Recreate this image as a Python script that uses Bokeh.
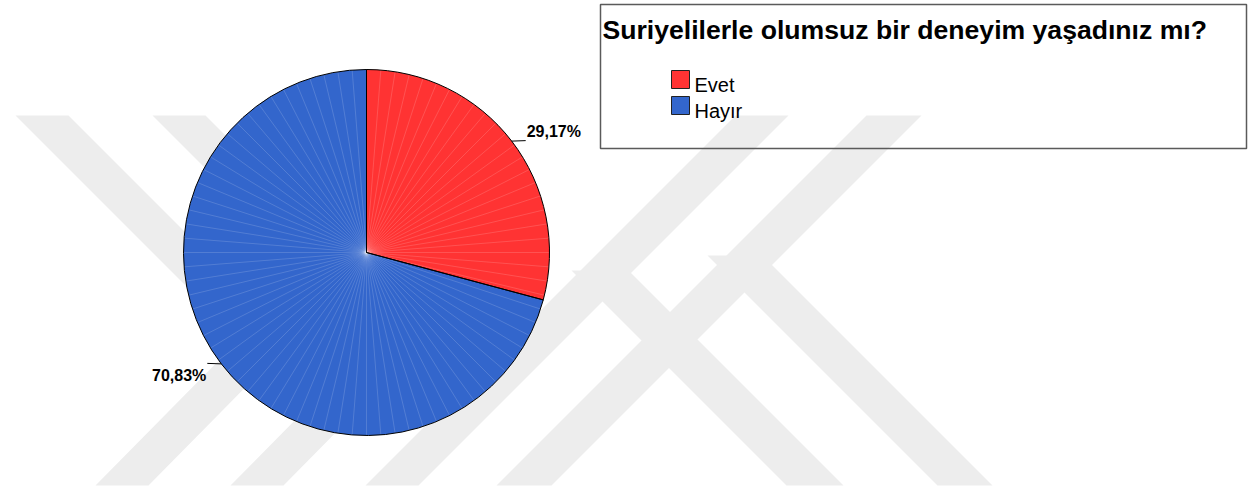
import numpy as np
from bokeh.plotting import figure
from bokeh.models import Range1d, ColumnDataSource
from bokeh.core.properties import value
from bokeh.embed import file_html
from bokeh.resources import INLINE

# ---------------- data ----------------
title_text = "Suriyelilerle olumsuz bir deneyim yaşadınız mı?"
categories = ["Evet", "Hayır"]
percentages = [29.17, 70.83]
pct_labels = ["29,17%", "70,83%"]
colors = ["#FF3333", "#3366CC"]

# ---------------- layout ----------------
W, H = 1250, 489
def sy(y):
    # screen y (page px) -> data y
    return 491 - y

TXT_SHIFT = 7  # empirical baseline correction (px)

p = figure(width=W, height=H, x_range=Range1d(0, W), y_range=Range1d(491 - H, 491),
           output_backend="svg", toolbar_location=None, min_border=0,
           x_axis_location=None, y_axis_location=None)
p.grid.visible = False
p.outline_line_color = None
p.background_fill_color = "white"
p.border_fill_color = "white"

FONT = "Liberation Sans"

# ---------------- faint background watermark ----------------
wm_shapes = [
    [(15, 115), (68, 115), (292, 339), (148, 485), (95, 485), (239, 339)],
    [(152, 115), (205, 115), (428, 338), (283, 485), (230, 485), (375, 338)],
    [(735, 115), (788, 115), (418, 485), (365, 485)],
    [(866, 115), (921, 115), (551, 485), (496, 485)],
    [(571, 270), (628, 270), (843, 485), (786, 485)],
    [(707, 255), (762, 255), (992, 485), (937, 485)],
]
p.patches(xs=[[pt[0] for pt in s] for s in wm_shapes],
          ys=[[sy(pt[1]) for pt in s] for s in wm_shapes],
          fill_color="#EDEDED", line_color=None)

# ---------------- pie ----------------
cx, cy, R = 366, sy(252), 183
total = float(sum(percentages))
fracs = [v / total for v in percentages]
cum = np.concatenate([[0.0], np.cumsum(fracs)])
starts = [np.pi / 2 - 2 * np.pi * cum[i] for i in range(len(fracs))]
ends = [np.pi / 2 - 2 * np.pi * cum[i + 1] for i in range(len(fracs))]

pie_src = ColumnDataSource(dict(start=starts, end=ends, color=colors, cat=categories))
p.wedge(x=cx, y=cy, radius=R, start_angle="start", end_angle="end", direction="clock",
        fill_color="color", line_color=None, source=pie_src)

# radial shading lines (texture)
n_rays = 80
ray_ang = np.pi / 2 - np.arange(n_rays) * 2 * np.pi / n_rays
p.segment(x0=[cx] * n_rays, y0=[cy] * n_rays,
          x1=list(cx + R * np.cos(ray_ang)), y1=list(cy + R * np.sin(ray_ang)),
          line_color="white", line_alpha=0.22, line_width=0.7)

# outlines
p.wedge(x=cx, y=cy, radius=R, start_angle="start", end_angle="end", direction="clock",
        fill_color=None, line_color="black", line_width=1, source=pie_src)

# ---------------- percentage labels ----------------
for i, lab in enumerate(pct_labels):
    mid = (starts[i] + ends[i]) / 2
    ex, ey = cx + R * np.cos(mid), cy + R * np.sin(mid)
    side = 1 if np.cos(mid) >= 0 else -1
    lx = ex + side * 14
    p.segment(x0=[ex], y0=[ey], x1=[lx], y1=[ey + 0.5], line_color="black", line_width=1)
    ty = (ey + 3 if np.sin(mid) > 0 else ey - 19) + TXT_SHIFT
    p.text(x=[lx + side * 1], y=[ty], text=[lab], text_font=value(FONT),
           text_font_size="16px", text_font_style="bold", text_color="black",
           text_align="left" if side > 0 else "right", text_baseline="alphabetic")

# ---------------- legend box ----------------
p.quad(left=[600], right=[1246], top=[sy(4)], bottom=[sy(148)],
       fill_color=None, line_color="#5a5a5a", line_width=1.5)
p.text(x=[602], y=[sy(36) + TXT_SHIFT], text=[title_text], text_font=value(FONT),
       text_font_size="26.6px", text_font_style="bold", text_color="black",
       text_align="left", text_baseline="alphabetic")

leg_top = [70 + 26 * i for i in range(len(categories))]
p.quad(left=[671] * len(categories), right=[689] * len(categories),
       top=[sy(t) for t in leg_top], bottom=[sy(t + 18) for t in leg_top],
       fill_color=colors, line_color="#222222", line_width=1)
p.text(x=[694] * len(categories), y=[sy(t + 21) + TXT_SHIFT for t in leg_top], text=categories,
       text_font=value(FONT), text_font_size="20px", text_color="black",
       text_align="left", text_baseline="alphabetic")

open("out.html", "w").write(file_html(p, INLINE))
